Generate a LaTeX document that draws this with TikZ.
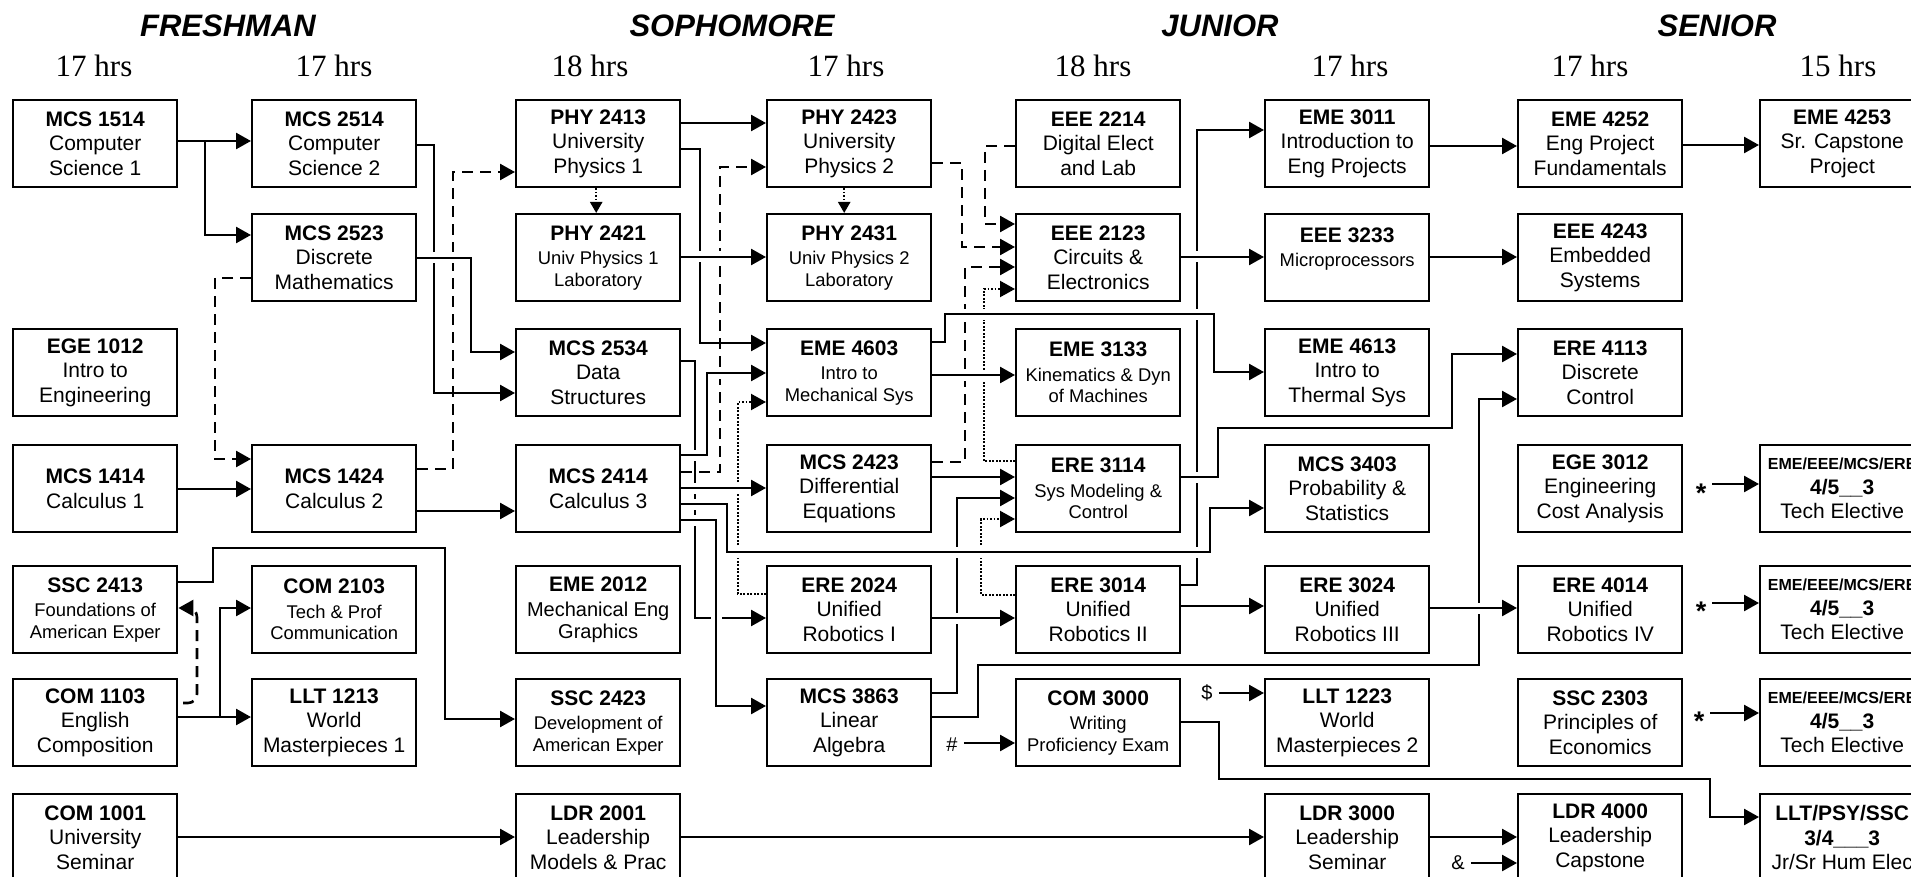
\documentclass[tikz,border=0pt]{standalone}
\usepackage{fontspec}
\setmainfont{Liberation Serif}
\newfontfamily\arial{Liberation Sans}
\usetikzlibrary{arrows.meta}
\pgfdeclarelayer{bg}
\pgfsetlayers{bg,main}
\newcommand\crs[1]{{\bfseries\fontsize{21}{24.5}\selectfont #1}}
\begin{document}
\begin{tikzpicture}[x=1pt,y=-1pt,
  box/.style={draw, line width=2.4pt, minimum width=164pt, minimum height=87pt, inner sep=0pt,
    anchor=north west, align=center, font=\arial\fontsize{21}{24.5}\selectfont},
  sm/.style={font=\arial\fontsize{18.4}{21.5}\selectfont},
  md/.style={font=\arial\fontsize{20}{21.6}\selectfont},
  hdr/.style={font=\arial\bfseries\itshape\fontsize{31}{31}\selectfont, anchor=base},
  hrs/.style={font=\fontsize{31}{31}\selectfont, anchor=base},
  lbl/.style={font=\arial\fontsize{20}{24}\selectfont, inner sep=1pt},
  star/.style={font=\arial\bfseries\fontsize{27}{27}\selectfont, inner sep=1pt},
  ln/.style={line width=2.6pt},
  arr/.style={ln, -{Triangle[length=15pt,width=16pt]}},
  arrs/.style={ln, -{Triangle[length=11pt,width=12pt]}},
  dsh/.style={dash pattern=on 11pt off 7pt},
  dtt/.style={line width=2.2pt, dash pattern=on 1.6pt off 1.9pt},
  over/.style={preaction={draw=white, line width=11pt, solid, -}},
  lab/.style={shorten <=5pt}
]
\useasboundingbox (0,0) rectangle (1911,877);

% headers
\node[hdr] (hF) at (228,37) {FRESHMAN};
\node[hdr] (hS) at (732,37) {SOPHOMORE};
\node[hdr] (hJ) at (1220,37) {JUNIOR};
\node[hdr] (hN) at (1717,37) {SENIOR};
\node[hrs] (t1) at (94,77) {17 hrs};
\node[hrs] (t2) at (334,77) {17 hrs};
\node[hrs] (t3) at (590,77) {18 hrs};
\node[hrs] (t4) at (846,77) {17 hrs};
\node[hrs] (t5) at (1093,77) {18 hrs};
\node[hrs] (t6) at (1350,77) {17 hrs};
\node[hrs] (t7) at (1590,77) {17 hrs};
\node[hrs] (t8) at (1838,77) {15 hrs};

% row 1
\node[box] (m1514) at (12,99) {\crs{MCS 1514}\\Computer\\Science 1};
\node[box] (m2514) at (251,99) {\crs{MCS 2514}\\Computer\\Science 2};
\node[box] (p2413) at (515,99) {\crs{PHY 2413}\\University\\Physics 1};
\node[box] (p2423) at (766,99) {\crs{PHY 2423}\\University\\Physics 2};
\node[box] (e2214) at (1015,99) {\crs{EEE 2214}\\Digital Elect\\and Lab};
\node[box] (m3011) at (1264,99) {\crs{EME 3011}\\Introduction to\\Eng Projects};
\node[box] (m4252) at (1517,99) {\crs{EME 4252}\\Eng Project\\Fundamentals};
\node[box] (m4253) at (1759,99) {\crs{EME 4253}\\Sr. Capstone\\Project};
% row 2
\node[box] (m2523) at (251,213) {\crs{MCS 2523}\\Discrete\\Mathematics};
\node[box,sm] (p2421) at (515,213) {\crs{PHY 2421}\\[2.9pt]Univ Physics 1\\Laboratory};
\node[box,sm] (p2431) at (766,213) {\crs{PHY 2431}\\[2.9pt]Univ Physics 2\\Laboratory};
\node[box] (e2123) at (1015,213) {\crs{EEE 2123}\\Circuits \&\\Electronics};
\node[box,sm] (e3233) at (1264,213) {\crs{EEE 3233}\\[2.9pt]Microprocessors\\ \mbox{}};
\node[box] (e4243) at (1517,213) {\crs{EEE 4243}\\Embedded\\Systems};
% row 3
\node[box] (g1012) at (12,328) {\crs{EGE 1012}\\Intro to\\Engineering};
\node[box] (m2534) at (515,328) {\crs{MCS 2534}\\Data\\Structures};
\node[box,sm] (m4603) at (766,328) {\crs{EME 4603}\\[2.9pt]Intro to\\Mechanical Sys};
\node[box,sm] (m3133) at (1015,328) {\crs{EME 3133}\\[2.9pt]Kinematics \& Dyn\\of Machines};
\node[box] (m4613) at (1264,328) {\crs{EME 4613}\\Intro to\\Thermal Sys};
\node[box] (r4113) at (1517,328) {\crs{ERE 4113}\\Discrete\\Control};
% row 4
\node[box] (m1414) at (12,444) {\crs{MCS 1414}\\Calculus 1};
\node[box] (m1424) at (251,444) {\crs{MCS 1424}\\Calculus 2};
\node[box] (m2414) at (515,444) {\crs{MCS 2414}\\Calculus 3};
\node[box] (m2423) at (766,444) {\crs{MCS 2423}\\Differential\\Equations};
\node[box,sm] (r3114) at (1015,444) {\crs{ERE 3114}\\[2.9pt]Sys Modeling \&\\Control};
\node[box] (m3403) at (1264,444) {\crs{MCS 3403}\\Probability \&\\Statistics};
\node[box] (g3012) at (1517,444) {\crs{EGE 3012}\\Engineering\\Cost Analysis};
\node[box] (te1) at (1759,444) {{\bfseries\fontsize{16}{20}\selectfont EME/EEE/MCS/ERE}\\\crs{4/5\_\_3}\\Tech Elective};
% row 5
\node[box,sm] (s2413) at (12,565) {\crs{SSC 2413}\\[2.9pt]Foundations of\\American Exper};
\node[box,sm] (c2103) at (251,565) {\crs{COM 2103}\\[2.9pt]Tech \& Prof\\Communication};
\node[box,md] (m2012) at (515,565) {\crs{EME 2012}\\[2.9pt]Mechanical Eng\\Graphics};
\node[box] (r2024) at (766,565) {\crs{ERE 2024}\\Unified\\Robotics I};
\node[box] (r3014) at (1015,565) {\crs{ERE 3014}\\Unified\\Robotics II};
\node[box] (r3024) at (1264,565) {\crs{ERE 3024}\\Unified\\Robotics III};
\node[box] (r4014) at (1517,565) {\crs{ERE 4014}\\Unified\\Robotics IV};
\node[box] (te2) at (1759,565) {{\bfseries\fontsize{16}{20}\selectfont EME/EEE/MCS/ERE}\\\crs{4/5\_\_3}\\Tech Elective};
% row 6
\node[box] (c1103) at (12,678) {\crs{COM 1103}\\English\\Composition};
\node[box] (l1213) at (251,678) {\crs{LLT 1213}\\World\\Masterpieces 1};
\node[box,sm] (s2423) at (515,678) {\crs{SSC 2423}\\[2.9pt]Development of\\American Exper};
\node[box] (m3863) at (766,678) {\crs{MCS 3863}\\Linear\\Algebra};
\node[box,sm] (c3000) at (1015,678) {\crs{COM 3000}\\[2.9pt]Writing\\Proficiency Exam};
\node[box] (l1223) at (1264,678) {\crs{LLT 1223}\\World\\Masterpieces 2};
\node[box] (s2303) at (1517,678) {\crs{SSC 2303}\\Principles of\\Economics};
\node[box] (te3) at (1759,678) {{\bfseries\fontsize{16}{20}\selectfont EME/EEE/MCS/ERE}\\\crs{4/5\_\_3}\\Tech Elective};
% row 7
\node[box] (c1001) at (12,793) {\crs{COM 1001}\\University\\Seminar};
\node[box] (l2001) at (515,793) {\crs{LDR 2001}\\Leadership\\Models \& Prac};
\node[box] (l3000) at (1264,793) {\crs{LDR 3000}\\Leadership\\Seminar};
\node[box] (l4000) at (1517,793) {\crs{LDR 4000}\\Leadership\\Capstone};
\node[box] (hum) at (1759,793) {\crs{LLT/PSY/SSC}\\\crs{3/4\_\_\_3}\\Jr/Sr Hum Elec};

% labels
\node[lbl] (hash) at (952,745) {\#};
\node[lbl] (dol) at (1207,693) {\$};
\node[lbl] (amp) at (1458,863) {\&};
\node[star] (st1) at (1701,493) {*};
\node[star] (st2) at (1701,611) {*};
\node[star] (st3) at (1699,721) {*};

\coordinate (j1) at (205,141);
\coordinate (j2) at (220,717);
\coordinate (cv) at (183,703);

\begin{pgfonlayer}{bg}
% lines that are crossed over
\draw[arr] (m2514.east |- 0,145) -| (434,393) -- (m2534.west |- 0,393);
\draw[arr,dsh] (m1424.east |- 0,469) -| (453,172) -- (p2413.west |- 0,172);
\draw[arr,dsh] (m2523.west |- 0,278) -| (215,459) -- (m1424.west |- 0,459);
\draw[arr] (p2413.east |- 0,149) -| (700,343) -- (m4603.west |- 0,343);
\draw[arr,dsh] (m2414.east |- 0,472) -| (720,167) -- (p2423.west |- 0,167);
\draw[arr] (m2534.east |- 0,361) -| (695,618) -- (r2024.west |- 0,618);
\draw[arr,dtt] (r2024.west |- 0,594) -| (738,402) -- (m4603.west |- 0,402);
\draw[arr,dtt] (r3014.west |- 0,595) -| (981,519) -- (r3114.west |- 0,519);
\draw[arr,dtt] (r3114.west |- 0,461) -| (984,289) -- (e2123.west |- 0,289);
\draw[arr,dsh] (m2423.east |- 0,462) -| (965,267) -- (e2123.west |- 0,267);
\draw[arr,dsh] (p2423.east |- 0,163) -| (962,247) -- (e2123.west |- 0,247);
\draw[arr,dsh] (e2214.west |- 0,146) -| (985,224) -- (e2123.west |- 0,224);
\draw[arr] (r3014.east |- 0,585) -| (1197,130) -- (m3011.west |- 0,130);
\draw[arr] (m3863.east |- 0,693) -| (957,498) -- (r3114.west |- 0,498);
\draw[arr] (m3863.east |- 0,717) -| (978,665) -| (1479,399) -- (r4113.west |- 0,399);
% lines that cross over
\draw[arr,over] (m2523.east |- 0,258) -| (471,352) -- (m2534.west |- 0,352);
\draw[arr,over] (p2421.east |- 0,257) -- (p2431.west |- 0,257);
\draw[arr,over] (e2123.east |- 0,257) -- (e3233.west |- 0,257);
\draw[arr,over] (m4603.east |- 0,342) -| (945,314) -| (1214,372) -- (m4613.west |- 0,372);
\draw[arr,over] (m4603.east |- 0,375) -- (m3133.west |- 0,375);
\draw[arr,over] (r3114.east |- 0,477) -| (1218,428) -| (1452,354) -- (r4113.west |- 0,354);
\draw[arr,over] (m2414.east |- 0,455) -| (707,373) -- (m4603.west |- 0,373);
\draw[arr,over] (m2414.east |- 0,488) -- (m2423.west |- 0,488);
\draw[arr,over] (m2414.east |- 0,504) -| (727,552) -| (1210,508) -- (m3403.west |- 0,508);
\draw[arr,over] (m2414.east |- 0,520) -| (716,706) -- (m3863.west |- 0,706);
\draw[arr,over] (r2024.east |- 0,618) -- (r3014.west |- 0,618);
\draw[arr,over] (r3024.east |- 0,608) -- (r4014.west |- 0,608);
% plain lines
\draw[arr] (m1514.east |- 0,141) -- (m2514.west |- 0,141);
\draw[arr] (j1) |- (m2523.west |- 0,235);
\draw[arr] (m1414.east |- 0,489) -- (m1424.west |- 0,489);
\draw[arr] (m1424.east |- 0,511) -- (m2414.west |- 0,511);
\draw[arr] (s2413.east |- 0,582) -| (213,548) -| (445,719) -- (s2423.west |- 0,719);
\draw[arr] (c1103.east |- 0,717) -- (l1213.west |- 0,717);
\draw[arr] (j2) |- (c2103.west |- 0,608);
\draw[arr,dsh,rounded corners=9pt] (cv) -| (197,608) -- (s2413.east |- 0,608);
\draw[arr] (c1001.east |- 0,837) -- (l2001.west |- 0,837);
\draw[arr] (l2001.east |- 0,837) -- (l3000.west |- 0,837);
\draw[arr] (l3000.east |- 0,837) -- (l4000.west |- 0,837);
\draw[arr] (c3000.east |- 0,722) -| (1219,779) -| (1710,817) -- (hum.west |- 0,817);
\draw[arr] (p2413.east |- 0,123) -- (p2423.west |- 0,123);
\draw[arrs,dtt] ([xshift=-2pt]p2413.south) -- ([xshift=-2pt]p2421.north);
\draw[arrs,dtt] ([xshift=-5pt]p2423.south) -- ([xshift=-5pt]p2431.north);
\draw[arr] (m3011.east |- 0,146) -- (m4252.west |- 0,146);
\draw[arr] (m4252.east |- 0,145) -- (m4253.west |- 0,145);
\draw[arr] (e3233.east |- 0,257) -- (e4243.west |- 0,257);
\draw[arr] (m2423.east |- 0,477) -- (r3114.west |- 0,477);
\draw[arr] (r3014.east |- 0,606) -- (r3024.west |- 0,606);
% label arrows
\draw[arr,lab] (hash.east |- 0,743) -- (c3000.west |- 0,743);
\draw[arr,lab] (dol.east |- 0,693) -- (l1223.west |- 0,693);
\draw[arr,lab] (amp.east |- 0,863) -- (l4000.west |- 0,863);
\draw[arr,lab] (st1.east |- 0,484) -- (te1.west |- 0,484);
\draw[arr,lab] (st2.east |- 0,603) -- (te2.west |- 0,603);
\draw[arr,lab] (st3.east |- 0,713) -- (te3.west |- 0,713);
\end{pgfonlayer}
\end{tikzpicture}
\end{document}
